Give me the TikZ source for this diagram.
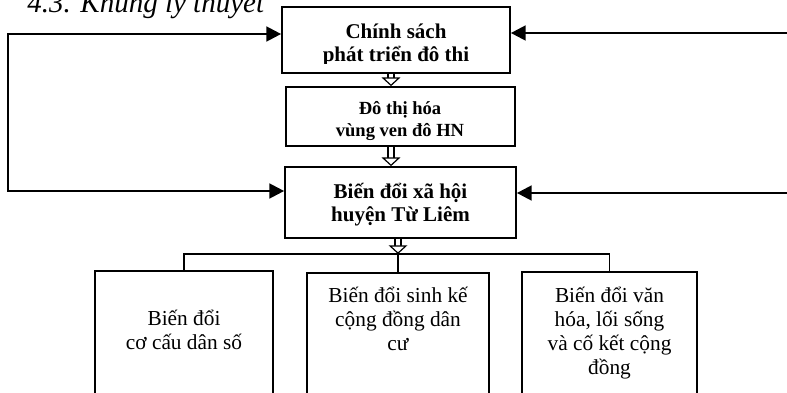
\documentclass[tikz,border=0pt]{standalone}
\usepackage{fontspec}
\setmainfont{Liberation Serif}
\usetikzlibrary{arrows.meta,positioning}

\begin{document}
\begin{tikzpicture}[
  x=0.75pt, y=-0.75pt,
  bigbox/.style={rectangle, draw, line width=1.3pt, inner sep=0pt},
  lowbox/.style={rectangle, draw, line width=1.1pt, inner sep=0pt},
  headtxt/.style={font=\fontsize{15.75}{17.25}\selectfont\bfseries,
                  align=center, inner sep=0pt, anchor=base},
  midtxt/.style={font=\fontsize{13.9}{16.5}\selectfont\bfseries,
                 align=center, inner sep=0pt, anchor=base},
  lowtxt/.style={font=\fontsize{16}{18}\selectfont,
                 align=center, inner sep=0pt, anchor=base},
  backarr/.style={line width=1.8pt,
                  {Triangle[length=11pt,width=11pt]}-{Triangle[length=11pt,width=11pt]}},
  inarr/.style={line width=1.8pt, -{Triangle[length=11pt,width=11pt]}},
  dbl/.style={double, double distance=3.6pt, line width=0.9pt,
              -{Triangle[open, fill=white, length=6.5pt, width=14pt, line width=0.9pt]}},
  branch/.style={line width=1.1pt},
]
  \useasboundingbox (0,0) rectangle (787,392);

  % Title
  \node[font=\fontsize{21.75}{24}\selectfont\itshape, inner sep=0pt,
        anchor=base west] (title) at (27,13) {4.3. Khung lý thuyết};

  % Main chain
  \node[bigbox, minimum width=171pt, minimum height=49.5pt] (policy) at (396,40) {};
  \node[bigbox, minimum width=171.75pt, minimum height=44.25pt] (urban) at (400.5,116.5) {};
  \node[bigbox, minimum width=173.25pt, minimum height=53.25pt] (social) at (400.5,202.5) {};

  \begin{scope}
    \clip (282,7) rectangle (510,63.5);
    \node[headtxt] (policytxt) at (396,62) {Chính sách\\phát triển đô thi};
  \end{scope}
  \begin{scope}
    \clip (286,87) rectangle (515,141);
    \node[midtxt] (urbantxt) at (400,137) {Đô thị hóa\\vùng ven đô HN};
  \end{scope}
  \node[headtxt] (socialtxt) at (400.5,221) {Biến đổi xã hội\\huyện Từ Liêm};

  % Bottom boxes
  \node[lowbox, minimum width=133.5pt, minimum height=111.75pt] (pop) at (184,345.5) {};
  \node[lowbox, minimum width=136.5pt, minimum height=110.25pt] (live) at (398,346.5) {};
  \node[lowbox, minimum width=131.25pt, minimum height=111pt] (cult) at (609.5,346) {};

  \node[lowtxt] (poptxt) at (184,349) {Biến đổi\\cơ cấu dân số};
  \node[lowtxt] (livetxt) at (398,350) {Biến đổi sinh kế\\cộng đồng dân\\cư};
  \node[lowtxt] (culttxt) at (609.5,374) {Biến đổi văn\\hóa, lối sống\\và cố kết cộng\\đồng};

  % Feedback arrows
  \coordinate (lt) at (8,34);
  \coordinate (lb) at (8,191);
  \coordinate (rt) at (790,33);
  \coordinate (rb) at (790,193);
  \draw[backarr] (lt -| policy.west) -- (lt) -- (lb) -- (lb -| social.west);
  \draw[inarr] (rt) -- (rt -| policy.east);
  \draw[inarr] (rb) -- (rb -| social.east);

  % Chain arrows
  \coordinate (ax) at (391,0);
  \coordinate (bus) at (398,254);
  \draw[dbl] (ax |- policy.south) -- (ax |- urban.north);
  \draw[dbl] (ax |- urban.south) -- (ax |- social.north);
  \draw[dbl] (bus |- social.south) -- (bus);

  % Branches
  \draw[branch] (pop.north) |- (bus) -| (cult.north);
  \draw[branch] (bus) -- (bus |- live.north);
\end{tikzpicture}
\end{document}
